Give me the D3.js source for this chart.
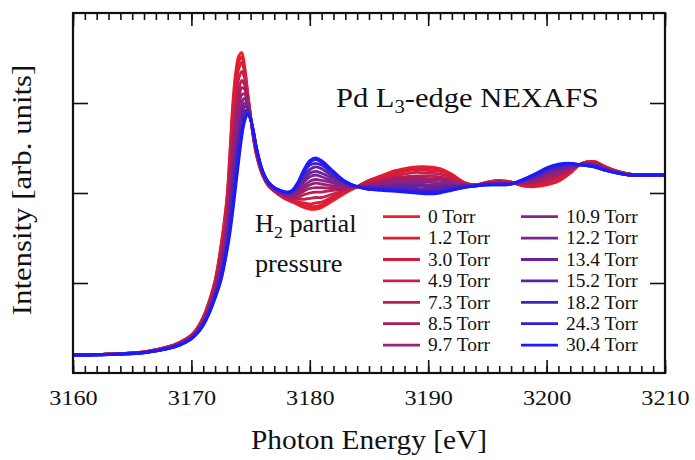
<!DOCTYPE html>
<html><head><meta charset="utf-8">
<script src="https://cdn.jsdelivr.net/npm/d3@7"></script>
<style>
html,body{margin:0;padding:0;background:#fff;}
svg{display:block;}
</style>
</head><body>
<svg id="chart" width="695" height="460"></svg>
<script>
// ---- data (photon energy in eV; intensity in arbitrary units) ----
const energy = [3160,3163,3166,3168,3169,3170,3170.5,3171,3171.5,3172,3172.5,3173,3173.25,3173.5,3173.75,3174,3174.25,3174.5,3174.75,3175,3175.25,3175.5,3176,3176.5,3177,3177.5,3178,3178.5,3179,3179.5,3180,3180.5,3181,3182,3183,3184,3185,3186,3187,3188,3189,3190,3191,3192,3193,3194,3195,3196,3197,3198,3199,3200,3201,3202,3203,3204,3205,3206,3207,3208,3210];

const torr0    = [.20,.21,.235,.29,.34, .42,.50,.62,.80,1.03, 1.42,1.95,2.45,3.00,3.35, 3.52,3.56,3.40,3.12,2.85, 2.60,2.42,2.20,2.08,2.02, 1.97,1.93,1.90,1.87,1.84, 1.82,1.82,1.84,1.92,2.00, 2.07,2.14,2.19,2.24,2.27, 2.29,2.29,2.27,2.21,2.12, 2.09,2.12,2.14,2.12,2.08, 2.07,2.09,2.13,2.22,2.33, 2.35,2.29,2.24,2.21,2.20, 2.20];
const torr1_2  = [.20,.21,.235,.29,.34, .42,.50,.62,.79,1.02, 1.40,1.92,2.41,2.94,3.29, 3.46,3.51,3.37,3.11,2.85, 2.60,2.42,2.20,2.08,2.02, 1.97,1.93,1.91,1.88,1.86, 1.85,1.85,1.87,1.94,2.01, 2.07,2.14,2.18,2.23,2.26, 2.28,2.28,2.26,2.20,2.12, 2.09,2.12,2.14,2.12,2.08, 2.08,2.10,2.14,2.23,2.33, 2.35,2.29,2.24,2.21,2.20, 2.20];
const torr3_0  = [.20,.21,.234,.29,.34, .42,.49,.61,.78,1.01, 1.37,1.88,2.34,2.86,3.20, 3.38,3.45,3.33,3.09,2.85, 2.61,2.43,2.21,2.09,2.02, 1.98,1.94,1.92,1.90,1.89, 1.88,1.89,1.90,1.96,2.02, 2.07,2.13,2.17,2.21,2.24, 2.26,2.25,2.24,2.19,2.11, 2.09,2.12,2.13,2.12,2.09, 2.09,2.11,2.15,2.23,2.33, 2.34,2.29,2.24,2.21,2.20, 2.20];
const torr4_9  = [.20,.21,.233,.29,.33, .41,.49,.60,.77,.99, 1.33,1.82,2.25,2.74,3.07, 3.27,3.35,3.27,3.07,2.84, 2.62,2.44,2.21,2.09,2.03, 1.98,1.95,1.93,1.93,1.93, 1.94,1.95,1.95,1.99,2.03, 2.07,2.12,2.15,2.19,2.21, 2.23,2.22,2.21,2.17,2.11, 2.09,2.11,2.13,2.12,2.10, 2.10,2.13,2.17,2.24,2.33, 2.34,2.28,2.24,2.21,2.20, 2.20];
const torr7_3  = [.20,.21,.232,.28,.33, .41,.48,.59,.75,.96, 1.29,1.75,2.15,2.60,2.93, 3.14,3.25,3.20,3.04,2.84, 2.63,2.45,2.22,2.09,2.03, 1.99,1.96,1.94,1.95,1.98, 2.00,2.01,2.01,2.03,2.04, 2.07,2.11,2.14,2.17,2.18, 2.19,2.19,2.18,2.15,2.10, 2.09,2.11,2.12,2.11,2.10, 2.12,2.15,2.19,2.26,2.32, 2.33,2.28,2.23,2.21,2.20, 2.20];
const torr8_5  = [.20,.21,.231,.28,.33, .40,.48,.58,.74,.95, 1.26,1.70,2.07,2.50,2.82, 3.03,3.17,3.15,3.02,2.84, 2.63,2.45,2.22,2.10,2.04, 2.00,1.96,1.95,1.98,2.02, 2.05,2.06,2.06,2.05,2.05, 2.07,2.10,2.12,2.15,2.16, 2.17,2.16,2.16,2.13,2.10, 2.09,2.11,2.12,2.11,2.11, 2.13,2.17,2.21,2.27,2.32, 2.33,2.27,2.23,2.21,2.20, 2.20];
const torr9_7  = [.20,.21,.23,.28,.33, .40,.47,.58,.73,.93, 1.23,1.65,2.00,2.40,2.72, 2.94,3.09,3.10,3.00,2.84, 2.64,2.46,2.23,2.10,2.04, 2.00,1.97,1.97,2.00,2.05, 2.09,2.11,2.10,2.08,2.07, 2.07,2.09,2.11,2.13,2.14, 2.15,2.14,2.14,2.12,2.09, 2.08,2.11,2.12,2.11,2.12, 2.14,2.19,2.23,2.28,2.32, 2.32,2.27,2.23,2.20,2.20, 2.20];
const torr10_9 = [.20,.21,.229,.28,.32, .40,.47,.57,.72,.91, 1.19,1.60,1.93,2.30,2.61, 2.85,3.01,3.05,2.98,2.83, 2.65,2.47,2.23,2.10,2.04, 2.00,1.98,1.98,2.02,2.08, 2.13,2.15,2.14,2.11,2.08, 2.07,2.08,2.10,2.11,2.12, 2.12,2.12,2.11,2.11,2.09, 2.08,2.10,2.11,2.11,2.12, 2.15,2.20,2.24,2.28,2.32, 2.32,2.27,2.23,2.20,2.20, 2.20];
const torr12_2 = [.20,.21,.228,.28,.32, .39,.46,.56,.71,.90, 1.16,1.55,1.86,2.21,2.51, 2.75,2.94,3.00,2.96,2.83, 2.65,2.47,2.23,2.11,2.05, 2.01,1.98,1.99,2.04,2.12, 2.18,2.20,2.18,2.13,2.09, 2.07,2.07,2.08,2.09,2.10, 2.10,2.09,2.09,2.09,2.08, 2.08,2.10,2.11,2.11,2.13, 2.16,2.22,2.26,2.29,2.32, 2.31,2.26,2.23,2.20,2.20, 2.20];
const torr13_4 = [.20,.21,.228,.28,.32, .39,.46,.55,.70,.88, 1.13,1.51,1.78,2.11,2.41, 2.66,2.86,2.96,2.94,2.83, 2.66,2.48,2.24,2.11,2.05, 2.01,1.99,2.00,2.06,2.15, 2.22,2.24,2.22,2.16,2.10, 2.07,2.07,2.07,2.08,2.08, 2.08,2.07,2.07,2.08,2.08, 2.08,2.10,2.10,2.11,2.13, 2.17,2.23,2.27,2.30,2.32, 2.31,2.26,2.23,2.20,2.20, 2.20];
const torr15_2 = [.20,.205,.227,.27,.32, .39,.45,.55,.69,.87, 1.10,1.46,1.71,2.02,2.31, 2.57,2.79,2.91,2.92,2.83, 2.67,2.49,2.24,2.11,2.05, 2.02,2.00,2.01,2.08,2.18, 2.26,2.29,2.27,2.18,2.11, 2.07,2.06,2.06,2.06,2.06, 2.05,2.04,2.05,2.06,2.07, 2.08,2.10,2.10,2.10,2.14, 2.19,2.25,2.29,2.31,2.31, 2.30,2.26,2.22,2.20,2.20, 2.20];
const torr18_2 = [.20,.205,.226,.27,.31, .38,.45,.54,.67,.85, 1.07,1.41,1.64,1.92,2.21, 2.48,2.71,2.86,2.90,2.82, 2.67,2.49,2.25,2.12,2.06, 2.02,2.00,2.02,2.10,2.22, 2.31,2.33,2.31,2.21,2.12, 2.07,2.05,2.05,2.04,2.04, 2.03,2.02,2.03,2.05,2.07, 2.08,2.09,2.10,2.10,2.14, 2.20,2.26,2.30,2.32,2.31, 2.30,2.25,2.22,2.20,2.20, 2.20];
const torr24_3 = [.20,.205,.225,.27,.31, .38,.44,.53,.67,.84, 1.05,1.37,1.59,1.85,2.13, 2.41,2.66,2.82,2.88,2.82, 2.68,2.50,2.25,2.12,2.06, 2.03,2.01,2.02,2.11,2.24, 2.34,2.37,2.34,2.23,2.12, 2.07,2.04,2.04,2.03,2.02, 2.01,2.00,2.01,2.04,2.06, 2.08,2.09,2.09,2.10,2.15, 2.20,2.27,2.31,2.33,2.31, 2.29,2.25,2.22,2.20,2.20, 2.20];
const torr30_4 = [.20,.205,.225,.27,.31, .38,.44,.53,.66,.83, 1.03,1.35,1.55,1.80,2.08, 2.36,2.62,2.80,2.87,2.82, 2.68,2.50,2.25,2.12,2.06, 2.03,2.01,2.03,2.12,2.26, 2.36,2.39,2.36,2.24,2.13, 2.07,2.04,2.03,2.02,2.01, 2.00,1.99,2.00,2.03,2.06, 2.08,2.09,2.09,2.10,2.15, 2.21,2.28,2.32,2.33,2.31, 2.29,2.25,2.22,2.20,2.20, 2.20];

const legendLabels = ["0 Torr","1.2 Torr","3.0 Torr","4.9 Torr","7.3 Torr","8.5 Torr","9.7 Torr",
                      "10.9 Torr","12.2 Torr","13.4 Torr","15.2 Torr","18.2 Torr","24.3 Torr","30.4 Torr"];
const seriesColors = ["#ee1c24","#e31b2f","#d81c3b","#c81f4a","#b81e55","#a71d5e","#9a2072",
                      "#8a2288","#7b2490","#6b2298","#5b22a8","#4721c0","#2b1ee0","#1a1aff"];
const xTickValues = [3160,3170,3180,3190,3200,3210];
const yTickValues = [1,2,3];

const seriesValues = [torr0,torr1_2,torr3_0,torr4_9,torr7_3,torr8_5,torr9_7,
                      torr10_9,torr12_2,torr13_4,torr15_2,torr18_2,torr24_3,torr30_4];

// ---- layout ----
const FONT = "'Liberation Serif', Tinos, 'Times New Roman', Times, 'DejaVu Serif', serif";
const L = 73, R = 665, T = 13, B = 373;
const svg = d3.select("#chart");
const x = d3.scaleLinear().domain([3160,3210]).range([L,R]);
const y = d3.scaleLinear().domain([0,4]).range([B,T]);

svg.append("defs").append("clipPath").attr("id","plotclip")
  .append("rect").attr("x",L).attr("y",T).attr("width",R-L).attr("height",B-T);

// ---- curves ----
const line = d3.line()
  .x((d,i)=>x(energy[i]))
  .y(d=>y(d))
  .curve(d3.curveCatmullRom.alpha(0.5));

const gLines = svg.append("g").attr("clip-path","url(#plotclip)");
seriesValues.forEach((vals,k)=>{
  gLines.append("path")
    .attr("d", line(vals))
    .attr("fill","none")
    .attr("stroke", seriesColors[k])
    .attr("stroke-width", 2.8)
    .attr("stroke-linejoin","round");
});

// ---- axes (ticks inward, mirrored) ----
function styleAxis(g){
  g.select(".domain").remove();
  g.selectAll(".tick line").attr("stroke","#111").attr("stroke-width",1.6);
}
const minorX = d3.axisBottom(x).ticks(50).tickSize(-7).tickFormat("");
const majorX = d3.axisBottom(x).tickValues(xTickValues).tickSize(-13).tickPadding(0).tickFormat(d3.format("d"));
svg.append("g").attr("transform",`translate(0,${B})`).call(minorX).call(styleAxis);
const gxb = svg.append("g").attr("transform",`translate(0,${B})`).call(majorX).call(styleAxis);
gxb.attr("font-family", FONT).attr("font-size", 22);
gxb.selectAll(".tick text")
  .attr("y",32).attr("dy",0)
  .attr("transform","scale(1.1,1)")
  .attr("font-family", FONT)
  .attr("font-size", 22)
  .attr("fill","#111");

svg.append("g").attr("transform",`translate(0,${T})`)
  .call(d3.axisTop(x).ticks(50).tickSize(-7).tickFormat("")).call(styleAxis);
svg.append("g").attr("transform",`translate(0,${T})`)
  .call(d3.axisTop(x).tickValues(xTickValues).tickSize(-13).tickFormat("")).call(styleAxis);

svg.append("g").attr("transform",`translate(${L},0)`)
  .call(d3.axisLeft(y).tickValues(yTickValues).tickSize(-15).tickFormat("")).call(styleAxis);
svg.append("g").attr("transform",`translate(${R},0)`)
  .call(d3.axisRight(y).tickValues(yTickValues).tickSize(-15).tickFormat("")).call(styleAxis);

svg.append("rect").attr("x",L).attr("y",T).attr("width",R-L).attr("height",B-T)
  .attr("fill","none").attr("stroke","#111").attr("stroke-width",2.2);

// ---- texts ----
function label(px, py, size, anchor, sx, rot){
  return svg.append("text")
    .attr("transform",`translate(${px},${py})${rot?` rotate(${rot})`:""} scale(${sx},1)`)
    .attr("text-anchor",anchor)
    .attr("font-family", FONT)
    .attr("font-size", size)
    .attr("fill","#111");
}

label((L+R)/2, 449, 28, "middle", 1.05).text("Photon Energy [eV]");
label(31, 190, 28, "middle", 1.1, -90).text("Intensity [arb. units]");

const title = label(336, 107, 28, "start", 1.09);
title.append("tspan").text("Pd L");
title.append("tspan").attr("dy",6).attr("font-size",19).text("3");
title.append("tspan").attr("dy",-6).text("-edge NEXAFS");

const h2 = label(255, 232, 25, "start", 1.05);
h2.append("tspan").text("H");
h2.append("tspan").attr("dy",6).attr("font-size",17).text("2");
h2.append("tspan").attr("dy",-6).text(" partial");
label(255, 272, 25, "start", 1.05).text("pressure");

// ---- legend ----
const leg = svg.append("g");
legendLabels.forEach((lab,k)=>{
  const col = k < 7 ? 0 : 1;
  const row = k % 7;
  const x0 = col === 0 ? 383 : 521;
  const cy = 216.7 + row*21.4;
  leg.append("line").attr("x1",x0).attr("x2",x0+37).attr("y1",cy).attr("y2",cy)
    .attr("stroke",seriesColors[k]).attr("stroke-width",2.8);
  leg.append("text")
    .attr("transform",`translate(${x0+45},${cy+6.3}) scale(1.05,1)`)
    .attr("font-family", FONT)
    .attr("font-size", 18.5)
    .attr("fill","#111")
    .text(lab);
});
</script>
</body></html>
